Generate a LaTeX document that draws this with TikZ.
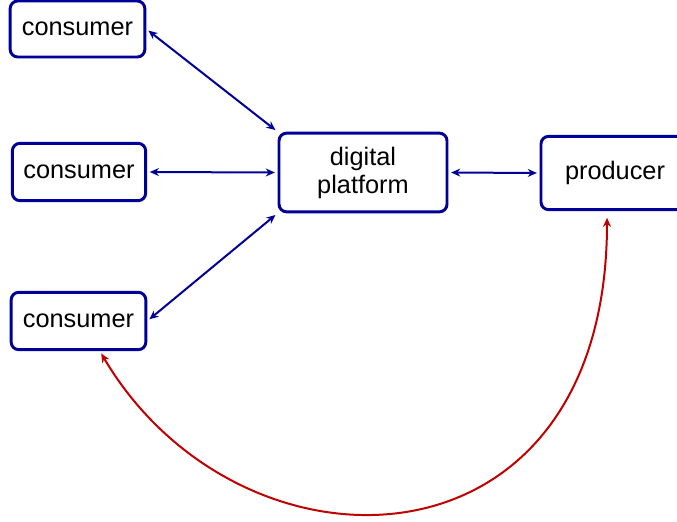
\documentclass[tikz,border=0pt]{standalone}
\usepackage{fontspec}
\setmainfont{Liberation Sans}
\usetikzlibrary{arrows.meta,positioning,shadows}
\definecolor{MKBlue}{HTML}{000099}
\definecolor{MKRed}{HTML}{C00000}
\definecolor{MKInk}{HTML}{000000}
\tikzset{
  link/.style={{Stealth[length=2.4mm,width=2.1mm]}-{Stealth[length=2.4mm,width=2.1mm]},
               MKBlue,line width=1.5pt,shorten <=2pt,shorten >=2pt},
  loop/.style={link,MKRed},
  actor/.style={draw=MKBlue,line width=2.2pt,fill=white,rounded corners=2mm,
                text=MKInk,align=center,font=\fontsize{19}{21}\selectfont,
                drop shadow={shadow xshift=0.8pt,shadow yshift=-0.8pt,opacity=0.25}},
}
\begin{document}
\begin{tikzpicture}[x=0.75pt,y=-0.75pt]
    \useasboundingbox (0,0) rectangle (677,521);

    % the three consumers on the left
    \node[actor,minimum width=101pt,minimum height=42pt] (cons1) at (77.5,29) {consumer};
    \node[actor,minimum width=100pt,minimum height=43pt] (cons2) at (79,172) {consumer};
    \node[actor,minimum width=101pt,minimum height=43pt] (cons3) at (78.5,321) {consumer};

    % platform in the middle, producer on the right
    \node[actor,minimum width=126pt,minimum height=59pt] (plat) at (363,172.5) {digital\\platform};
    \node[actor,minimum width=111pt,minimum height=55pt] (prod) at (615,173) {producer};

    \draw[link] (cons1.east) -- (plat.north west);
    \draw[link] (cons2.east) -- (plat.west);
    \draw[link] (cons3.east) -- (plat.south west);
    \draw[link] (plat.east) -- (prod.west);

    % direct tie between producer and consumer
    \draw[loop,shorten <=5pt,shorten >=2pt]
      ([xshift=-6pt]prod.south) .. controls +(0,372) and +(140,237) .. ([xshift=16pt]cons3.south);
  \end{tikzpicture}
\end{document}
